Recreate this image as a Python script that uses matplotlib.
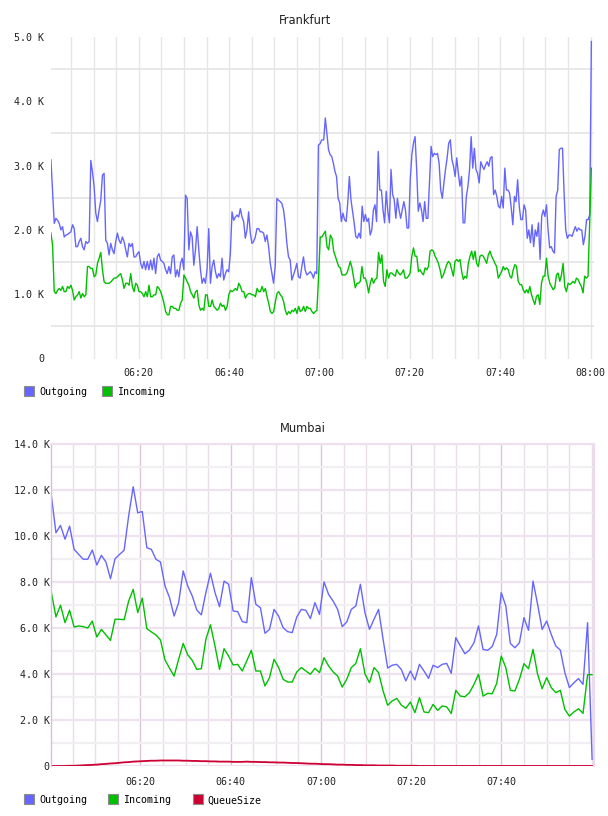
import pandas as pd
import matplotlib
matplotlib.use('Agg')
import matplotlib.pyplot as plt
import matplotlib.dates as mdates
from matplotlib.lines import Line2D
from matplotlib.ticker import FuncFormatter, FixedLocator, MultipleLocator

day = '2020-01-01 '

# Frankfurt, values in K (about one sample every 22 s), first and second hour
fra_out_h1 = [3.09, 2.60, 2.10, 2.18, 2.15, 2.10, 2.00, 2.05, 1.89, 1.92, 1.93, 1.95, 1.97, 2.08, 2.02, 1.74,
              1.74, 1.82, 1.87, 1.74, 1.69, 1.82, 1.79, 1.82, 3.08, 2.90, 2.67, 2.26, 2.13, 2.31, 2.46, 2.85,
              2.88, 1.84, 1.79, 1.61, 1.79, 1.69, 1.63, 1.82, 1.95, 1.84, 1.79, 1.89, 1.82, 1.69, 1.58, 1.79,
              1.74, 1.79, 1.58, 1.58, 1.63, 1.66, 1.48, 1.40, 1.51, 1.38, 1.51, 1.38, 1.53, 1.38, 1.56, 1.32,
              1.58, 1.63, 1.53, 1.51, 1.48, 1.38, 1.32, 1.43, 1.32, 1.58, 1.61, 1.27, 1.38, 1.27, 1.48, 1.56,
              1.38, 2.54, 2.49, 1.69, 1.97, 1.89, 1.45, 1.69, 2.05, 1.69, 1.38, 1.17, 1.25, 1.17, 1.40, 2.02,
              1.17, 1.43, 1.53, 1.35, 1.25, 1.32, 1.27, 1.56, 1.22, 1.32, 1.38, 1.35, 1.63, 2.28, 2.15, 2.20,
              2.23, 2.20, 2.33, 2.20, 2.13, 1.87, 2.00, 2.28, 1.95, 1.79, 1.82, 1.89, 2.02, 2.02, 1.97, 1.97,
              1.95, 1.82, 1.92, 1.74, 1.48, 1.32, 1.17, 1.43, 2.49, 2.46, 2.44, 2.41, 2.31, 2.10, 1.79, 1.58,
              1.53, 1.22, 1.30, 1.38, 1.48, 1.27, 1.25, 1.43, 1.58, 1.38, 1.30, 1.32, 1.35, 1.32, 1.25, 1.35,
              1.32, 3.32, 3.34, 3.40]
fra_out_h2 = [3.40, 3.74, 3.50, 3.25, 3.17, 3.14, 3.04, 2.91, 2.83, 2.49, 2.42, 2.13, 2.26, 2.16, 2.13, 2.42,
              2.83, 2.47, 2.29, 2.11, 1.90, 1.87, 1.95, 1.87, 2.37, 2.13, 2.24, 2.13, 2.18, 1.92, 2.00, 2.31,
              2.39, 2.13, 3.22, 2.62, 2.62, 2.31, 2.11, 2.60, 2.29, 2.11, 2.94, 2.55, 2.47, 2.18, 2.49, 2.31,
              2.18, 2.31, 2.44, 2.31, 2.03, 2.03, 2.78, 3.17, 3.35, 3.45, 2.94, 2.29, 2.42, 2.31, 2.13, 2.44,
              2.18, 2.18, 2.73, 3.30, 3.14, 3.19, 3.17, 3.19, 3.04, 2.62, 2.49, 2.73, 2.94, 3.12, 3.35, 3.40,
              3.09, 2.99, 2.83, 3.12, 2.88, 2.68, 2.83, 2.11, 2.11, 2.52, 2.68, 2.94, 3.45, 2.96, 3.27, 2.94,
              2.88, 2.73, 3.06, 2.99, 2.94, 3.01, 3.06, 2.99, 3.12, 3.14, 2.55, 2.62, 2.52, 2.37, 2.34, 2.52,
              2.34, 2.96, 2.62, 2.62, 2.57, 2.34, 2.08, 2.52, 2.44, 2.78, 2.37, 2.16, 2.16, 2.39, 2.31, 1.87,
              2.00, 1.80, 2.08, 1.74, 2.00, 1.90, 2.11, 1.54, 2.21, 2.31, 2.21, 2.39, 2.00, 1.72, 1.74, 1.67,
              1.64, 2.52, 2.62, 3.25, 3.27, 3.27, 2.57, 2.00, 1.87, 1.92, 1.92, 1.90, 1.98, 2.05, 1.98, 2.03,
              2.00, 2.00, 1.77, 1.90, 2.16, 2.16, 2.24, 4.93]

fra_in_h1 = [1.95, 1.76, 1.04, 1.01, 1.06, 1.09, 1.06, 1.12, 1.04, 1.04, 1.12, 1.09, 1.14, 1.06, 0.91, 0.96,
             0.99, 1.04, 0.94, 1.01, 0.96, 0.99, 1.43, 1.43, 1.40, 1.40, 1.27, 1.30, 1.48, 1.56, 1.65, 1.38,
             1.19, 1.17, 1.17, 1.17, 1.19, 1.22, 1.25, 1.25, 1.27, 1.30, 1.32, 1.22, 1.09, 1.17, 1.17, 1.14,
             1.32, 1.12, 1.04, 1.17, 1.14, 1.04, 1.04, 1.01, 0.96, 1.04, 0.96, 1.14, 0.96, 0.96, 0.99, 0.99,
             1.12, 1.09, 1.04, 0.96, 0.86, 0.73, 0.68, 0.68, 0.81, 0.81, 0.78, 0.78, 0.75, 0.75, 0.86, 0.91,
             1.30, 1.25, 1.19, 1.14, 1.04, 0.99, 0.94, 1.04, 1.06, 0.83, 0.75, 0.78, 0.75, 0.99, 0.99, 0.81,
             0.81, 0.91, 0.81, 0.78, 0.75, 0.78, 0.86, 0.81, 0.83, 0.75, 0.81, 0.99, 1.06, 1.04, 1.06, 1.09,
             1.06, 1.17, 1.12, 1.04, 1.04, 0.94, 0.99, 1.01, 1.01, 0.99, 0.99, 0.96, 1.09, 1.04, 1.04, 1.12,
             1.04, 1.09, 0.96, 0.86, 0.73, 0.70, 0.73, 0.88, 1.01, 1.04, 0.99, 0.96, 0.88, 0.75, 0.68, 0.73,
             0.70, 0.75, 0.73, 0.78, 0.70, 0.81, 0.73, 0.75, 0.81, 0.73, 0.81, 0.78, 0.78, 0.73, 0.70, 0.73,
             0.75, 1.27, 1.89, 1.89]
fra_in_h2 = [1.98, 1.74, 1.69, 1.92, 1.87, 1.67, 1.59, 1.51, 1.43, 1.41, 1.30, 1.30, 1.30, 1.33, 1.41, 1.51,
             1.41, 1.25, 1.10, 1.17, 1.17, 1.20, 1.43, 1.25, 1.25, 1.17, 1.02, 1.17, 1.25, 1.17, 1.23, 1.25,
             1.65, 1.48, 1.61, 1.20, 1.12, 1.38, 1.25, 1.33, 1.33, 1.30, 1.28, 1.38, 1.33, 1.30, 1.33, 1.38,
             1.25, 1.25, 1.28, 1.33, 1.59, 1.72, 1.59, 1.59, 1.35, 1.38, 1.33, 1.30, 1.41, 1.38, 1.43, 1.67,
             1.69, 1.67, 1.59, 1.54, 1.48, 1.38, 1.25, 1.30, 1.38, 1.46, 1.51, 1.48, 1.38, 1.28, 1.51, 1.54,
             1.51, 1.54, 1.35, 1.23, 1.28, 1.25, 1.48, 1.59, 1.67, 1.54, 1.67, 1.48, 1.43, 1.59, 1.61, 1.59,
             1.54, 1.48, 1.61, 1.67, 1.59, 1.54, 1.48, 1.43, 1.25, 1.30, 1.35, 1.43, 1.38, 1.41, 1.38, 1.28,
             1.25, 1.38, 1.46, 1.43, 1.20, 1.15, 1.15, 1.07, 1.02, 1.07, 1.02, 1.12, 0.99, 0.91, 0.84, 0.97,
             0.99, 0.84, 1.17, 1.28, 1.28, 1.56, 1.28, 1.17, 1.12, 1.07, 1.10, 1.30, 1.33, 1.20, 1.30, 1.48,
             1.12, 1.04, 1.17, 1.15, 1.17, 1.20, 1.17, 1.25, 1.23, 1.17, 1.12, 1.02, 1.28, 1.25, 1.28, 2.11,
             2.96]

# Mumbai, values in K (one sample per minute)
mum_out = [11.74, 10.14, 10.46, 9.86, 10.43, 9.42, 9.20, 8.99, 8.99, 9.39, 8.74, 9.16, 8.87, 8.14, 9.01,
           9.20, 9.38, 10.87, 12.14, 11.01, 11.06, 9.49, 9.42, 8.99, 8.87, 7.83, 7.32, 6.52, 7.10, 8.48,
           7.83, 7.39, 6.78, 6.57, 7.54, 8.38, 7.54, 6.93, 8.04, 7.90, 6.74, 6.71, 6.28, 6.23, 8.19, 7.03,
           6.88, 5.77, 5.94, 6.81, 6.52, 6.01, 5.84, 5.80, 6.48, 6.81, 6.77, 6.41, 7.10, 6.59, 8.00,
           7.46, 7.17, 6.81, 6.06, 6.26, 6.81, 6.96, 7.90, 6.67, 5.94, 6.38, 6.81, 5.51, 4.26, 4.38, 4.42,
           4.20, 3.70, 4.13, 3.74, 4.42, 4.13, 3.81, 4.38, 4.28, 4.42, 4.46, 4.03, 5.58, 5.22, 4.88, 5.04,
           5.36, 6.09, 5.07, 5.03, 5.19, 5.72, 7.54, 6.96, 5.33, 5.14, 5.36, 6.45, 5.90, 8.04, 7.03, 5.94,
           6.30, 5.72, 5.22, 5.04, 4.06, 3.41, 3.62, 3.80, 3.55, 6.23, 0.29]

mum_in = [7.54, 6.48, 6.99, 6.23, 6.77, 6.04, 6.09, 6.06, 6.00, 6.30, 5.61, 5.94, 5.70, 5.46, 6.38, 6.38,
          6.36, 7.17, 7.68, 6.67, 7.30, 5.97, 5.83, 5.70, 5.48, 4.61, 4.25, 3.91, 4.64, 5.33, 4.83, 4.59,
          4.20, 4.23, 5.51, 6.14, 5.22, 4.20, 5.10, 4.78, 4.39, 4.42, 4.13, 4.57, 5.03, 4.13, 4.13, 3.48,
          3.84, 4.64, 4.28, 3.77, 3.65, 3.65, 4.09, 4.28, 4.13, 3.99, 4.25, 4.06, 4.71,
          4.35, 4.09, 3.91, 3.43, 3.77, 4.28, 4.46, 5.10, 4.01, 3.62, 4.28, 4.06, 3.26, 2.64, 2.83, 2.94,
          2.65, 2.51, 2.78, 2.32, 2.97, 2.35, 2.32, 2.68, 2.42, 2.61, 2.57, 2.28, 3.29, 3.04, 3.01, 3.19,
          3.55, 3.99, 3.04, 3.16, 3.14, 3.59, 4.78, 4.28, 3.29, 3.26, 3.77, 4.45, 4.23, 5.07, 3.99, 3.36,
          3.84, 3.41, 3.19, 3.29, 2.46, 2.17, 2.35, 2.49, 2.29, 3.97, 3.97]

mum_queue = [0, 0, 0, 0, 0.01, 0.01, 0.02, 0.03, 0.04, 0.05, 0.06, 0.08, 0.09, 0.11, 0.12, 0.14,
             0.16, 0.17, 0.19, 0.20, 0.21, 0.22, 0.23, 0.23, 0.24, 0.24, 0.24, 0.24, 0.24, 0.23, 0.23,
             0.22, 0.22, 0.21, 0.21, 0.20, 0.20, 0.19, 0.19, 0.19, 0.18, 0.18, 0.18, 0.19, 0.18, 0.18,
             0.17, 0.17, 0.16, 0.16, 0.15, 0.15, 0.14, 0.13, 0.13, 0.12, 0.11, 0.10, 0.10, 0.09, 0.08,
             0.08, 0.07, 0.06, 0.06, 0.05, 0.05, 0.04, 0.04, 0.03, 0.03, 0.03, 0.02, 0.02, 0.02, 0.02,
             0.01, 0.01, 0.01, 0.01, 0.01, 0, 0, 0, 0, 0, 0, 0, 0, 0, 0, 0, 0, 0, 0, 0, 0, 0, 0, 0, 0,
             0, 0, 0, 0, 0, 0, 0, 0, 0, 0, 0, 0, 0, 0, 0, 0, 0, 0, 0]

BLUE = '#6666ff'
GREEN = '#00c000'
RED = '#cc0033'
MONO = 'DejaVu Sans Mono'
FS = 7.2

W, H = 608, 816
fig = plt.figure(figsize=(W / 100, H / 100), dpi=100)


def box(l, t, r, b):
    return [l / W, 1 - b / H, (r - l) / W, (b - t) / H]


def kfmt(v, pos):
    return '0' if abs(v) < 1e-9 else '%.1f K' % v


def times(start, end, n):
    return pd.date_range(day + start, day + end, periods=n)


def legend(items, y, spacing):
    handles = [Line2D([], [], ls='none', marker='s', ms=6.9, mfc=c, mec='#8c8c8c', mew=0.8)
               for c, _ in items]
    fig.legend(handles, [n for _, n in items], loc='center left', bbox_to_anchor=(24 / W, 1 - y / H),
               ncol=len(items), frameon=False, borderpad=0, borderaxespad=0, handlelength=1.0,
               handleheight=1.0, handletextpad=0.5, columnspacing=spacing,
               prop={'family': MONO, 'size': FS})


# ---- Frankfurt ----
ax1 = fig.add_axes(box(51, 37, 594, 358.5))
t_out = times('06:00:34', '07:00:30', len(fra_out_h1)).append(times('07:00:56', '08:00:10', len(fra_out_h2)))
t_in = times('06:00:34', '07:00:32', len(fra_in_h1)).append(times('07:01:18', '08:00:10', len(fra_in_h2)))
ax1.plot(t_out, fra_out_h1 + fra_out_h2, color=BLUE, lw=1.0)
ax1.plot(t_in, fra_in_h1 + fra_in_h2, color=GREEN, lw=1.0)
ax1.set_xlim(pd.Timestamp(day + '06:00:35'), pd.Timestamp(day + '08:00:45'))
ax1.set_ylim(0, 5)
ax1.xaxis.set_major_locator(mdates.MinuteLocator(byminute=[0, 20, 40]))
ax1.xaxis.set_minor_locator(mdates.MinuteLocator(byminute=range(0, 60, 5)))
ax1.xaxis.set_major_formatter(mdates.DateFormatter('%H:%M'))
ax1.yaxis.set_major_locator(MultipleLocator(1))
ax1.yaxis.set_minor_locator(FixedLocator([0.5, 1.5, 2.5, 3.5, 4.5]))
ax1.yaxis.set_major_formatter(FuncFormatter(kfmt))
ax1.grid(axis='x', which='both', color='#e6e6e6', lw=1.0)
ax1.grid(axis='y', which='minor', color='#e4e4e4', lw=1.2)
ax1.set_axisbelow(True)
for s in ax1.spines.values():
    s.set_visible(False)
ax1.tick_params(axis='both', which='both', length=0, labelsize=FS, labelcolor='#222222')
ax1.tick_params(axis='x', pad=6.8)
ax1.tick_params(axis='y', pad=5)
for lab in ax1.get_xticklabels() + ax1.get_yticklabels():
    lab.set_family(MONO)
fig.text(305 / W, 1 - 20 / H, 'Frankfurt', ha='center', va='center', fontsize=8.3, color='#222222')
legend([(BLUE, 'Outgoing'), (GREEN, 'Incoming')], 392.3, 1.53)

# ---- Mumbai ----
ax2 = fig.add_axes(box(50.5, 444, 594, 766))
t = times('06:00:17', '08:00:05', len(mum_out))
ax2.plot(t, mum_out, color=BLUE, lw=1.0)
ax2.plot(t, mum_in, color=GREEN, lw=1.0)
ax2.plot(t, mum_queue, color=RED, lw=1.3)
ax2.set_xlim(pd.Timestamp(day + '06:00:05'), pd.Timestamp(day + '08:00:30'))
ax2.set_ylim(0, 14)
ax2.set_xticks(pd.date_range(day + '06:20', day + '07:40', freq='20min'))
ax2.xaxis.set_minor_locator(mdates.MinuteLocator(byminute=range(0, 60, 5)))
ax2.xaxis.set_major_formatter(mdates.DateFormatter('%H:%M'))
ax2.yaxis.set_major_locator(MultipleLocator(2))
ax2.yaxis.set_minor_locator(MultipleLocator(1))
ax2.yaxis.set_major_formatter(FuncFormatter(kfmt))
ax2.grid(axis='x', which='minor', color='#e8dee8', lw=1.0)
ax2.grid(axis='x', which='major', color='#dcc4dc', lw=1.0)
ax2.grid(axis='y', which='major', color='#efe2ef', lw=1.6)
ax2.grid(axis='y', which='minor', color='#f2eff2', lw=1.6)
ax2.set_axisbelow(True)
ax2.spines['bottom'].set_visible(False)
ax2.spines['left'].set_color('#d8c0d8')
ax2.spines['left'].set_linewidth(1.0)
ax2.spines['top'].set_color('#efe0ef')
ax2.spines['top'].set_linewidth(1.6)
ax2.spines['right'].set_color('#eed8ee')
ax2.spines['right'].set_linewidth(1.6)
ax2.tick_params(axis='both', which='both', length=0, labelsize=FS, labelcolor='#222222')
ax2.tick_params(axis='x', pad=7.7)
ax2.tick_params(axis='y', pad=0.5)
for lab in ax2.get_xticklabels() + ax2.get_yticklabels():
    lab.set_family(MONO)
fig.text(303 / W, 1 - 429 / H, 'Mumbai', ha='center', va='center', fontsize=8.3, color='#222222')
legend([(BLUE, 'Outgoing'), (GREEN, 'Incoming'), (RED, 'QueueSize')], 800.3, 2.13)

fig.savefig('out.png', dpi=100)
